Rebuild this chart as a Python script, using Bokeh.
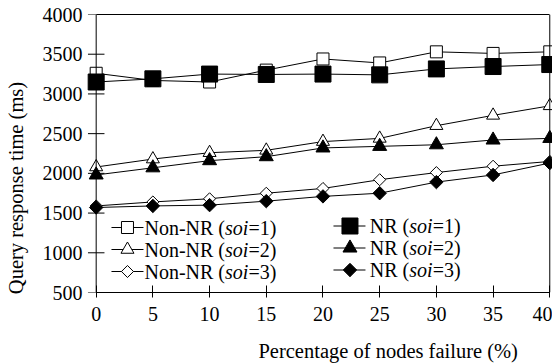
import numpy as np
from bokeh.plotting import figure
from bokeh.models import Range1d, FixedTicker, LinearAxis, Span, Label
from bokeh.core.properties import value
from bokeh.embed import file_html
from bokeh.resources import INLINE

# ---------------- data ----------------
failure_pct = [0, 5, 10, 15, 20, 25, 30, 35, 40]
nonnr_soi1 = [3260, 3170, 3150, 3300, 3440, 3390, 3530, 3510, 3530]
nr_soi1 = [3150, 3190, 3250, 3245, 3250, 3240, 3315, 3345, 3370]
nonnr_soi2 = [2080, 2180, 2260, 2290, 2400, 2440, 2600, 2730, 2850]
nr_soi2 = [1980, 2070, 2160, 2210, 2320, 2340, 2360, 2420, 2440]
nonnr_soi3 = [1590, 1640, 1680, 1750, 1810, 1920, 2010, 2090, 2150]
nr_soi3 = [1570, 1590, 1600, 1650, 1710, 1750, 1890, 1980, 2130]
y_ticks = [500, 1000, 1500, 2000, 2500, 3000, 3500, 4000]
x_label = "Percentage of nodes failure (%)"
y_label = "Query response time (ms)"

FONT = "Liberation Serif"
FS = "20px"
FS_TITLE = "20.5px"

p = figure(width=552, height=364, output_backend="svg", toolbar_location=None,
           x_range=Range1d(-1.03, 40.24), y_range=Range1d(500, 4000),
           min_border_left=84, min_border_right=0, min_border_top=14,
           min_border_bottom=72)
p.outline_line_color = None
p.grid.visible = False
p.background_fill_color = "white"
p.border_fill_color = "white"

# bottom axis
xa = p.xaxis[0]
xa.ticker = FixedTicker(ticks=failure_pct)
xa.bounds = (0, 40)
xa.major_tick_in = 7
xa.major_tick_out = 5
xa.minor_tick_line_color = None
xa.major_label_standoff = 9
xa.axis_line_color = "black"
xa.major_tick_line_color = "black"

# left axis: only labels (line and ticks drawn at x = 0 below)
ya = p.yaxis[0]
ya.ticker = FixedTicker(ticks=y_ticks)
ya.axis_line_color = None
ya.major_tick_line_color = None
ya.minor_tick_line_color = None
ya.major_tick_in = 0
ya.major_tick_out = 0
ya.major_label_standoff = 2
for ax in (xa, ya):
    ax.major_label_text_font = FONT
    ax.major_label_text_font_size = FS
    ax.major_label_text_color = "black"

top_ax = LinearAxis(ticker=FixedTicker(ticks=[]), bounds=(0, 40),
                    major_tick_in=0, major_tick_out=0, minor_tick_in=0,
                    minor_tick_out=0, major_label_standoff=0,
                    major_label_text_font_size="0px", axis_line_color="black")
p.add_layout(top_ax, "above")

p.add_layout(Span(location=0, dimension="height", line_color="black", line_width=1))
p.add_layout(Span(location=40, dimension="height", line_color="black", line_width=1))

X0_PX, PX_PER_X = 95.7, 11.34
Y_TOP_PX, MS_PER_PX = 14.0, 3500 / 278.0


def dx(px):
    return (px - X0_PX) / PX_PER_X


def dy(py):
    return 4000 - (py - Y_TOP_PX) * MS_PER_PX


# y ticks crossing the y axis line
p.segment(x0=[dx(87.5)] * len(y_ticks), y0=y_ticks,
          x1=[dx(104)] * len(y_ticks), y1=y_ticks,
          line_color="black", line_width=1)

# series: (values, marker, fill, size, angle, name prefix, suffix)
series = [
    (nonnr_soi1, "square", "white", 12, 0.0, "Non-NR (", "=1)"),
    (nonnr_soi2, "triangle", "white", 13, 0.0, "Non-NR (", "=2)"),
    (nonnr_soi3, "square", "white", 8.5, np.pi / 4, "Non-NR (", "=3)"),
    (nr_soi1, "square", "black", 16, 0.0, "NR (", "=1)"),
    (nr_soi2, "triangle", "black", 14, 0.0, "NR (", "=2)"),
    (nr_soi3, "square", "black", 9.5, np.pi / 4, "NR (", "=3)"),
]

for vals, mk, fill, sz, ang, _, _ in series:
    p.line(failure_pct, vals, line_color="black", line_width=1)
    p.scatter(failure_pct, vals, marker=mk, size=sz, angle=ang,
              fill_color=fill, line_color="black", line_width=1)

# ---------------- legend (manual, for the italic "soi") ----------------
legend_cols = [
    dict(line=(111, 143), mark=127, text=144, rows=[227, 249, 271], w1=80.5),
    dict(line=(333, 365), mark=349.5, text=369.3, rows=[225.5, 247.5, 269.5], w1=39.4),
]
for ci, col in enumerate(legend_cols):
    for ri in range(3):
        vals, mk, fill, sz, ang, prefix, suffix = series[ci * 3 + ri]
        yy = dy(col["rows"][ri])
        p.line([dx(col["line"][0]), dx(col["line"][1])], [yy, yy],
               line_color="black", line_width=1)
        p.scatter([dx(col["mark"])], [yy], marker=mk, size=sz, angle=ang,
                  fill_color=fill, line_color="black", line_width=1)
        tx = dx(col["text"])
        p.text([tx], [yy], text=[prefix], text_font=value(FONT),
               text_font_size=value(FS), text_baseline="middle",
               text_align="left", text_color="black")
        p.text([tx], [yy], text=["soi"], x_offset=col["w1"],
               text_font=value(FONT), text_font_style="italic",
               text_font_size=value(FS), text_baseline="middle",
               text_align="left", text_color="black")
        p.text([tx], [yy], text=[suffix], x_offset=col["w1"] + 23.5,
               text_font=value(FONT), text_font_size=value(FS),
               text_baseline="middle", text_align="left", text_color="black")

# ---------------- axis titles (in side panels, so they are not clipped) ----------------
p.add_layout(Label(x=dx(387.7), y=dy(350.5), text=x_label, text_font=FONT,
                   text_font_size=FS_TITLE, text_align="center",
                   text_baseline="alphabetic", text_color="black"), "below")
p.add_layout(Label(x=dx(15.2), y=dy(187.5), text=y_label, text_font=FONT,
                   text_font_size=FS_TITLE, text_align="center",
                   text_baseline="alphabetic", angle=np.pi / 2,
                   text_color="black"), "left")

open("out.html", "w").write(file_html(p, INLINE))
